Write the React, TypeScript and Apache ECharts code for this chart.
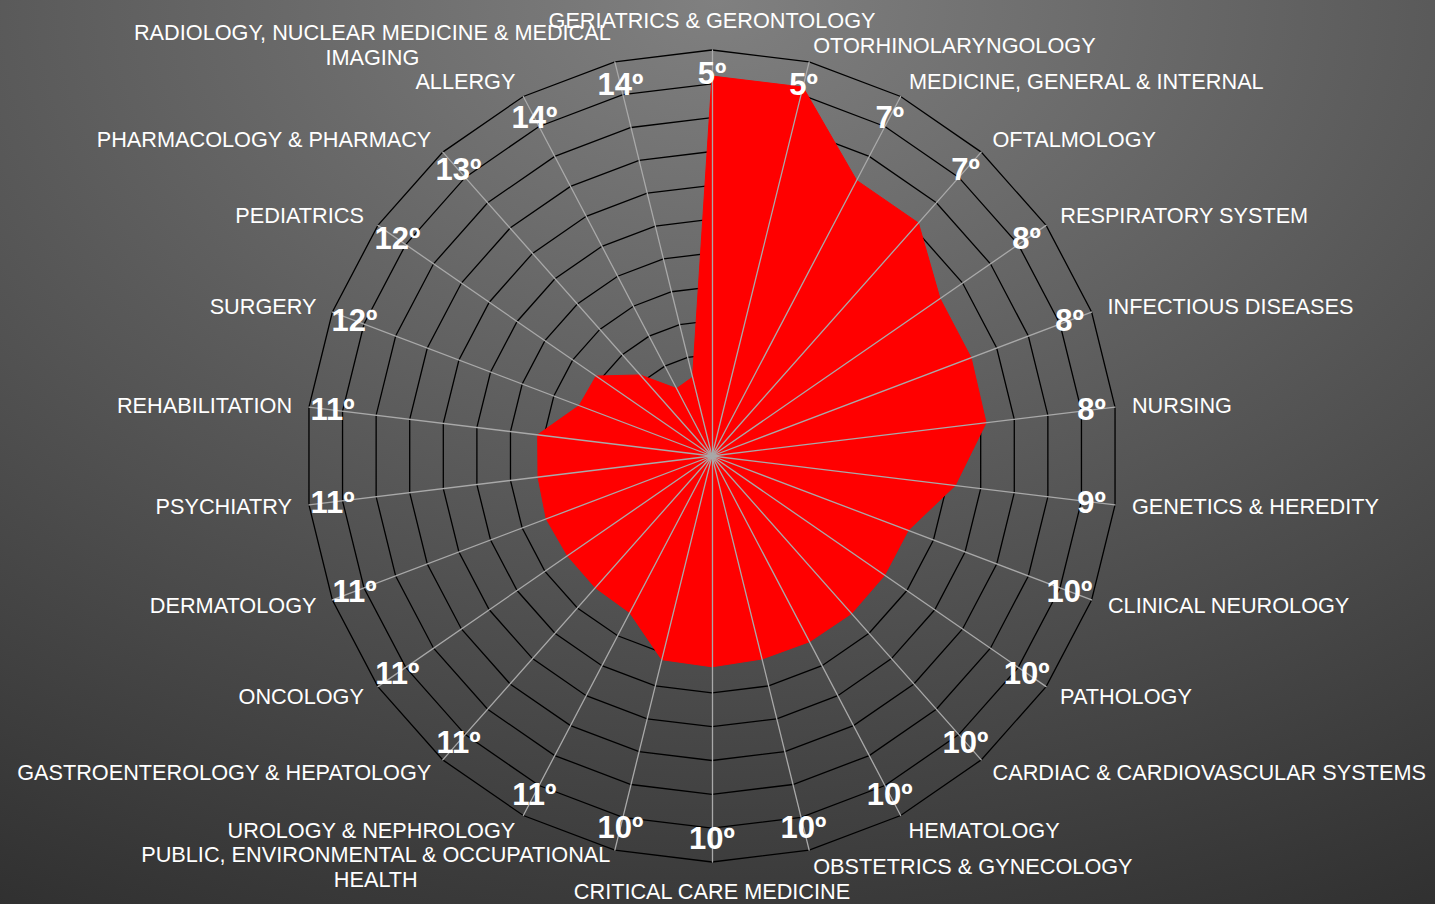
import React, { useEffect, useRef } from 'react';
import * as echarts from 'echarts';

// Categories in clockwise order starting at the top
const categories: string[] = [
  'GERIATRICS & GERONTOLOGY',
  'OTORHINOLARYNGOLOGY',
  'MEDICINE, GENERAL & INTERNAL',
  'OFTALMOLOGY',
  'RESPIRATORY SYSTEM',
  'INFECTIOUS DISEASES',
  'NURSING',
  'GENETICS & HEREDITY',
  'CLINICAL NEUROLOGY',
  'PATHOLOGY',
  'CARDIAC & CARDIOVASCULAR SYSTEMS',
  'HEMATOLOGY',
  'OBSTETRICS & GYNECOLOGY',
  'CRITICAL CARE MEDICINE',
  'PUBLIC, ENVIRONMENTAL & OCCUPATIONAL\nHEALTH',
  'UROLOGY & NEPHROLOGY',
  'GASTROENTEROLOGY & HEPATOLOGY',
  'ONCOLOGY',
  'DERMATOLOGY',
  'PSYCHIATRY',
  'REHABILITATION',
  'SURGERY',
  'PEDIATRICS',
  'PHARMACOLOGY & PHARMACY',
  'ALLERGY',
  'RADIOLOGY, NUCLEAR MEDICINE & MEDICAL\nIMAGING',
];

// Rank labels (shown as "5º", ...)
const ranks: number[] = [5, 5, 7, 7, 8, 8, 8, 9, 10, 10, 10, 10, 10, 10, 10, 11, 11, 11, 11, 11, 11, 12, 12, 13, 14, 14];

// Plotted scores (red area), scale 0..12
const scores: number[] = [
  11.23, 11.23, 9.2, 9.2, 8.19, 8.19, 8.16, 7.24, 6.2, 6.2, 6.22, 6.2, 6.18,
  6.23, 6.2, 5.23, 5.2, 5.19, 5.24, 5.18, 5.19, 4.2, 4.16, 3.2, 2.25, 2.4,
];

const scaleMax = 12;
const labelRadius = 11.3;

export default function App() {
  const ref = useRef<HTMLDivElement>(null);

  useEffect(() => {
    document.body.style.margin = '0';
    const chart = echarts.init(ref.current!, null, { renderer: 'svg' });
    const n = categories.length;
    // ECharts radar runs counter-clockwise: reverse so the picture goes clockwise
    const order = categories.map((_, k) => (k === 0 ? 0 : n - k));
    const font = "'Liberation Sans', Arial, sans-serif";
    const indicator = order.map((i) => ({ name: categories[i], min: 0, max: scaleMax }));
    const center = [712, 456];
    const radius = 406;
    const baseRadar = {
      center,
      radius,
      startAngle: 90,
      shape: 'polygon',
      splitNumber: 12,
      indicator,
    };

    chart.setOption({
      animation: false,
      backgroundColor: 'transparent',
      radar: [
        {
          ...baseRadar,
          z: 0,
          axisNameGap: 17,
          axisName: {
            color: '#ffffff',
            fontSize: 21.7,
            fontFamily: font,
            formatter: (name: string) =>
              name
                .split('\n')
                .map((l) => `{c|${l}}`)
                .join('\n'),
            rich: {
              c: {
                align: 'center',
                color: '#ffffff',
                fontSize: 21.7,
                fontFamily: font,
                lineHeight: 25,
              },
            },
          },
          splitLine: { lineStyle: { color: '#000000', width: 1.3 } },
          splitArea: { show: false },
          axisLine: { show: false },
          axisTick: { show: false },
          axisLabel: { show: false },
        },
        {
          ...baseRadar,
          z: 3,
          axisName: { show: false },
          splitLine: { show: false },
          splitArea: { show: false },
          axisLine: { lineStyle: { color: '#a9a9a9', width: 1.3 } },
          axisTick: { show: false },
          axisLabel: { show: false },
        },
      ],
      polar: { center, radius },
      angleAxis: {
        type: 'value',
        min: 0,
        max: n,
        startAngle: 90,
        clockwise: true,
        show: false,
        axisLine: { show: false },
        splitLine: { show: false },
        axisLabel: { show: false },
        axisTick: { show: false },
      },
      radiusAxis: {
        min: 0,
        max: scaleMax,
        show: false,
        axisLine: { show: false },
        splitLine: { show: false },
        axisLabel: { show: false },
        axisTick: { show: false },
      },
      series: [
        {
          type: 'radar',
          radarIndex: 0,
          z: 2,
          symbol: 'none',
          lineStyle: { color: '#ff0000', width: 1 },
          areaStyle: { color: '#ff0000', opacity: 1 },
          data: [{ name: 'score', value: order.map((i) => scores[i]) }],
        },
        {
          type: 'scatter',
          coordinateSystem: 'polar',
          z: 5,
          symbolSize: 1,
          itemStyle: { color: 'rgba(0,0,0,0)' },
          label: {
            show: true,
            position: 'inside',
            formatter: (p: any) => `${ranks[p.dataIndex]}º`,
            color: '#ffffff',
            opacity: 1,
            textBorderWidth: 0,
            textBorderColor: 'transparent',
            fontSize: 31,
            fontWeight: 'bold',
            fontFamily: font,
          },
          data: ranks.map((_, i) => [labelRadius, i]),
        },
      ],
    });

    return () => chart.dispose();
  }, []);

  return (
    <div
      ref={ref}
      style={{
        width: 1435,
        height: 904,
        background:
          'radial-gradient(ellipse 110% 120% at 50% 0%, #808080 0%, #2c2c2c 100%)',
      }}
    />
  );
}
